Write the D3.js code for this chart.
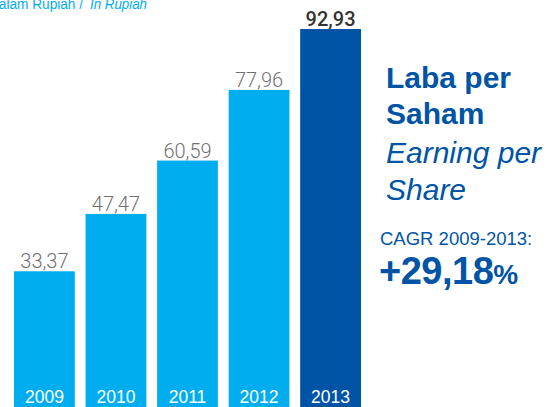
<!DOCTYPE html>
<html>
<head>
<meta charset="utf-8">
<script src="https://cdn.jsdelivr.net/npm/d3@7"></script>
<style>
  html, body { margin: 0; padding: 0; background: #fff; }
  svg { display: block; }
</style>
</head>
<body>
<svg id="chart" width="560" height="407"></svg>
<script>
const years = ['2009', '2010', '2011', '2012', '2013'];
const eps = [33.37, 47.47, 60.59, 77.96, 92.93];
const valueLabels = ['33,37', '47,47', '60,59', '77,96', '92,93'];
const titleLines = ['Laba per', 'Saham'];
const subtitleLines = ['Earning per', 'Share'];
const cagrLabel = 'CAGR 2009-2013:';
const cagrValue = '+29,18';

const svg = d3.select('#chart');
const width = +svg.attr('width');
const height = +svg.attr('height');

const lightBlue = '#00aeef';
const darkBlue = '#0054a6';

const x = d3.scaleBand().domain(years).range([14, 361]).paddingInner(0.15).paddingOuter(0);
const y = d3.scaleLinear().domain([0, d3.max(eps)]).range([height, 29]);

const data = years.map((yr, i) => ({ year: yr, value: eps[i], label: valueLabels[i], last: i === years.length - 1 }));

// unit note, partly outside the frame as in the original
svg.append('text')
  .attr('x', -11).attr('y', 9)
  .attr('textLength', 94)
  .attr('lengthAdjust', 'spacingAndGlyphs')
  .attr('font-family', 'Liberation Sans, Arial, sans-serif')
  .attr('font-size', 14)
  .attr('fill', lightBlue)
  .text('Dalam Rupiah /');
svg.append('text')
  .attr('x', 90).attr('y', 9)
  .attr('textLength', 57)
  .attr('lengthAdjust', 'spacingAndGlyphs')
  .attr('font-family', 'Liberation Sans, Arial, sans-serif')
  .attr('font-size', 14)
  .attr('font-style', 'italic')
  .attr('fill', lightBlue)
  .text('In Rupiah');

// bars
svg.selectAll('rect.bar')
  .data(data)
  .join('rect')
  .attr('class', 'bar')
  .attr('x', d => x(d.year))
  .attr('y', d => y(d.value))
  .attr('width', x.bandwidth())
  .attr('height', d => y(0) - y(d.value))
  .attr('fill', d => d.last ? darkBlue : lightBlue);

// values above bars
svg.selectAll('text.val')
  .data(data)
  .join('text')
  .attr('class', 'val')
  .attr('x', d => x(d.year) + x.bandwidth() / 2)
  .attr('y', d => y(d.value) - 3)
  .attr('text-anchor', 'middle')
  .attr('font-family', 'Roboto, sans-serif')
  .attr('font-size', 20)
  .attr('font-weight', d => d.last ? 500 : 300)
  .attr('fill', d => d.last ? '#333333' : '#707070')
  .text(d => d.label);

// year labels inside bars
svg.selectAll('text.year')
  .data(data)
  .join('text')
  .attr('class', 'year')
  .attr('x', d => x(d.year) + x.bandwidth() / 2)
  .attr('y', 403)
  .attr('text-anchor', 'middle')
  .attr('font-family', 'Liberation Sans, Arial, sans-serif')
  .attr('font-size', 17.5)
  .attr('fill', '#ffffff')
  .text(d => d.year);

// right-hand title block
const tx = 386;
titleLines.forEach((t, i) => {
  svg.append('text')
    .attr('x', tx).attr('y', 88 + i * 36)
    .attr('font-family', 'Liberation Sans, Arial, sans-serif')
    .attr('font-size', 30)
    .attr('font-weight', 'bold')
    .attr('fill', darkBlue)
    .text(t);
});
subtitleLines.forEach((t, i) => {
  svg.append('text')
    .attr('x', tx).attr('y', 163 + i * 37)
    .attr('font-family', 'Liberation Sans, Arial, sans-serif')
    .attr('font-size', 30)
    .attr('font-style', 'italic')
    .attr('fill', darkBlue)
    .text(t);
});

svg.append('text')
  .attr('x', 380).attr('y', 245)
  .attr('font-family', 'Liberation Sans, Arial, sans-serif')
  .attr('font-size', 18.5)
  .attr('fill', darkBlue)
  .text(cagrLabel);

const cagr = svg.append('text')
  .attr('x', 379).attr('y', 284)
  .attr('font-family', 'Liberation Sans, Arial, sans-serif')
  .attr('font-weight', 'bold')
  .attr('fill', darkBlue);
cagr.append('tspan').attr('font-size', 38).attr('letter-spacing', -0.5).text(cagrValue);
cagr.append('tspan').attr('font-size', 28).text('%');
</script>
</body>
</html>
